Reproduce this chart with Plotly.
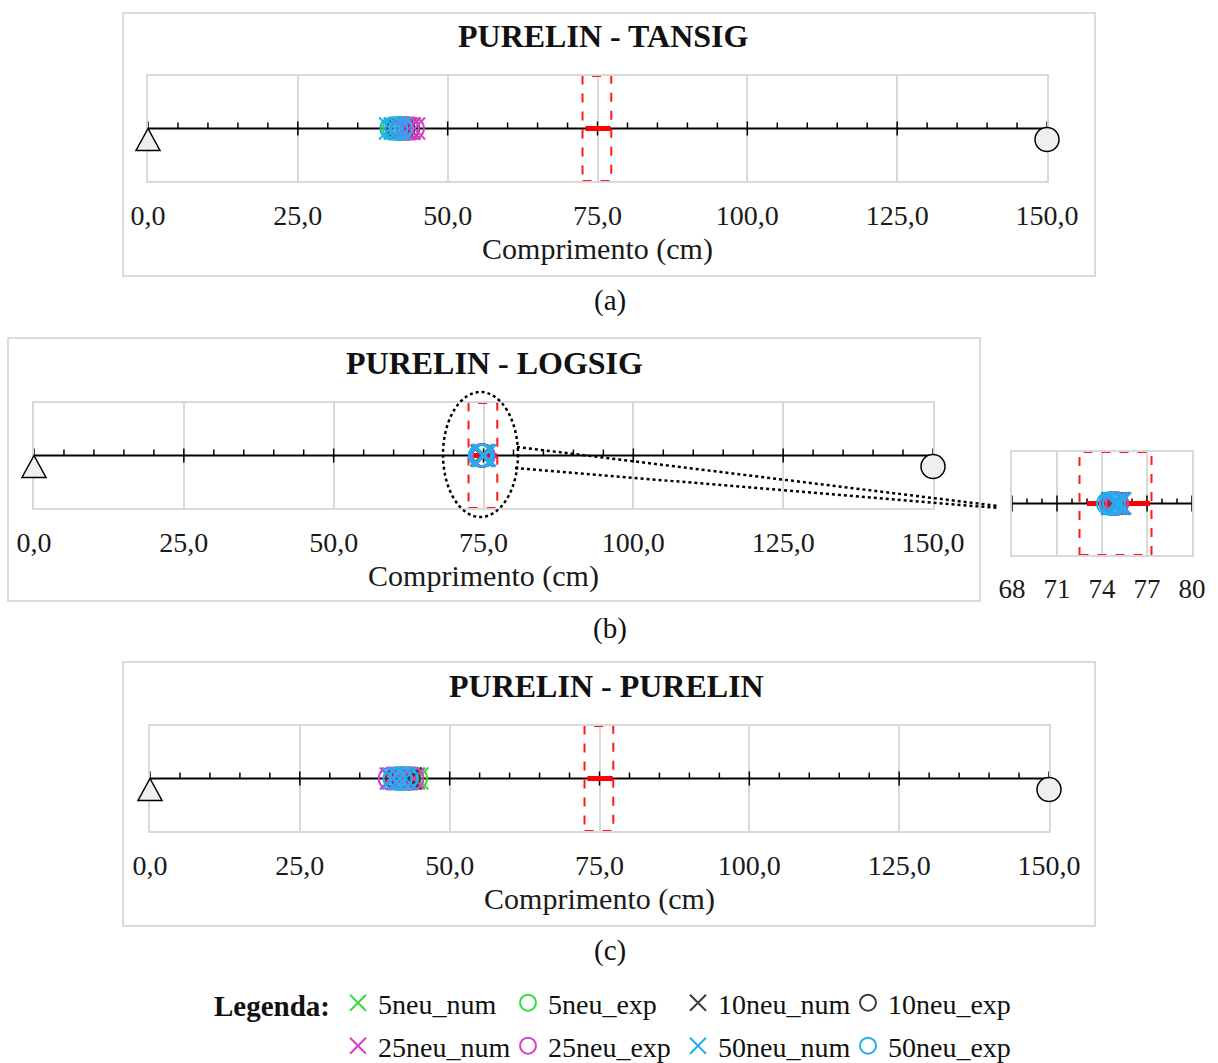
import numpy as np
import plotly.graph_objects as go

W, H = 1218, 1063
SERIF = "Times New Roman, Liberation Serif, serif"

# ---- data -------------------------------------------------------------
series_names = ["5neu_num", "5neu_exp", "10neu_num", "10neu_exp",
                "25neu_num", "25neu_exp", "50neu_num", "50neu_exp"]
series_colors = ["#35dc35", "#35dc35", "#3c3c3c", "#3c3c3c",
                 "#d63fc8", "#d63fc8", "#22aef0", "#22aef0"]
series_symbols = ["x-thin-open", "circle-open"] * 4

# predicted damage position (cm) for each network size, per output function
tansig_pos = [[41.2, 42.0, 42.8], [41.0, 41.8, 42.6],
              [42.0, 42.8, 43.6], [41.8, 42.6, 43.4],
              [42.6, 43.5, 44.4], [42.4, 43.3, 44.2],
              [40.4, 41.2, 42.0], [40.6, 41.4, 42.2]]
logsig_pos = [[74.7, 74.9, 75.1], [74.6, 74.8, 75.0],
              [74.7, 74.9, 75.1], [74.6, 74.8, 75.0],
              [74.8, 75.0, 75.2], [74.6, 74.8, 75.0],
              [74.8, 75.0, 75.2], [74.4, 74.6, 74.8]]
purelin_pos = [[42.5, 43.5, 44.6], [42.3, 43.3, 44.4],
               [41.5, 42.5, 43.5], [41.2, 42.2, 43.2],
               [40.2, 42.0, 44.0], [40.0, 41.8, 43.8],
               [40.6, 41.6, 42.6], [40.8, 41.8, 42.8]]

panel_titles = ["PURELIN - TANSIG", "PURELIN - LOGSIG", "PURELIN - PURELIN"]
panel_tags = ["(a)", "(b)", "(c)"]
main_ticks = [0, 25, 50, 75, 100, 125, 150]
main_tick_labels = ["0,0", "25,0", "50,0", "75,0", "100,0", "125,0", "150,0"]
zoom_ticks = [68, 71, 74, 77, 80]
zoom_tick_labels = ["68", "71", "74", "77", "80"]
beam_length = 150
damage_start, damage_end = 73.0, 77.2      # actual damaged region
window_start, window_end = 72.5, 77.3      # highlight window around it
axis_title = "Comprimento (cm)"

# ---- layout geometry (pixels) ----------------------------------------
def fx(p):
    return p / W


def fy(p):
    return 1 - p / H


panels = [
    dict(box=(123, 13, 1095, 276), plot=(148, 76, 1047, 181), title=(603, 36), tag_y=300),
    dict(box=(8, 338, 980, 601), plot=(34, 403, 933, 508), title=(494, 363), tag_y=628),
    dict(box=(123, 662, 1095, 926), plot=(150, 726, 1049, 831), title=(606, 686), tag_y=950),
]
inset_plot = (1012, 452, 1192, 555)

GRID = "#d9d9d9"
fig = go.Figure()
shapes = []
annotations = []
layout_axes = {}


def axis_pair(idx, plot, rng, tickvals, ticktext, tick_size, title=None):
    x0, y0, x1, y1 = plot
    xname = "xaxis" if idx == 1 else f"xaxis{idx}"
    yname = "yaxis" if idx == 1 else f"yaxis{idx}"
    ya = "y" if idx == 1 else f"y{idx}"
    xa = "x" if idx == 1 else f"x{idx}"
    layout_axes[xname] = dict(
        domain=[fx(x0), fx(x1)], range=rng, anchor=ya, automargin=False,
        tickvals=tickvals, ticktext=ticktext, ticks="",
        showgrid=True, gridcolor=GRID, gridwidth=1.5,
        showline=True, mirror=True, linecolor=GRID, linewidth=1.5,
        zeroline=False, fixedrange=True, ticklabelstandoff=9,
        tickfont=dict(family=SERIF, size=tick_size, color="#1a1a1a"),
    )
    if title:
        layout_axes[xname]["title"] = dict(
            text=title, standoff=8, font=dict(family=SERIF, size=30, color="#1a1a1a"))
    layout_axes[yname] = dict(
        domain=[fy(y1), fy(y0)], range=[-1, 1], anchor=xa, automargin=False,
        showticklabels=False, showgrid=False, zeroline=False,
        showline=True, mirror=True, linecolor=GRID, linewidth=1.5, fixedrange=True,
    )
    return xa, ya


def beam_shapes(xa, ya, start, stop, minor_step, major_step, major_half, minor_len):
    out = [dict(type="line", xref=xa, yref=ya, x0=start, x1=stop, y0=0, y1=0,
                line=dict(color="black", width=2), layer="between")]
    for v in np.arange(start, stop + 1e-9, minor_step):
        is_major = abs(((v - start) / major_step) - round((v - start) / major_step)) < 1e-6
        y0, y1 = (-major_half, major_half) if is_major else (0, minor_len)
        out.append(dict(type="line", xref=xa, yref=ya, x0=v, x1=v,
                        ysizemode="pixel", yanchor=0, y0=y0, y1=y1,
                        line=dict(color="black", width=1.5), layer="between"))
    return out


def damage_shapes(xa, ya):
    return [
        dict(type="rect", xref=xa, yref=ya, x0=window_start, x1=window_end,
             y0=-1, y1=1, line=dict(color="#ff1a1a", width=2, dash="dash"), layer="between"),
        dict(type="line", xref=xa, yref=ya, x0=damage_start, x1=damage_end, y0=0, y1=0,
             line=dict(color="#ff0000", width=5), layer="between"),
    ]


def support_shapes(xa, ya):
    # pinned support at the left end, roller at the right end (beam sits mid-height)
    xd, yd = f"{xa} domain", f"{ya} domain"
    return [
        dict(type="path", xref=xd, yref=yd, xsizemode="pixel", ysizemode="pixel",
             xanchor=0, yanchor=0.5, path="M0,0 L-12,-22 L12,-22 Z",
             fillcolor="#efefef", line=dict(color="black", width=1.5)),
        dict(type="circle", xref=xd, yref=yd, xsizemode="pixel", ysizemode="pixel",
             xanchor=1, yanchor=0.5, x0=-12, x1=12, y0=-23, y1=1,
             fillcolor="#efefef", line=dict(color="black", width=1.5)),
    ]


def add_series(xa, ya, positions, legend_on):
    for i, (name, col, sym, vals) in enumerate(zip(series_names, series_colors,
                                                   series_symbols, positions)):
        fig.add_trace(go.Scatter(
            x=vals, y=[0] * len(vals), xaxis=xa, yaxis=ya, mode="markers", name=name,
            marker=dict(symbol=sym, size=22, color=col, line=dict(width=2, color=col)),
            showlegend=legend_on, legend="legend" if i < 4 else "legend2",
            legendgroup=name, cliponaxis=False,
        ))


panel_data = [tansig_pos, logsig_pos, purelin_pos]
for k, (p, title, tag, data) in enumerate(zip(panels, panel_titles, panel_tags, panel_data)):
    idx = k + 1
    xa, ya = axis_pair(idx, p["plot"], [0, beam_length], main_ticks, main_tick_labels, 28, axis_title)
    bx0, by0, bx1, by1 = p["box"]
    shapes.append(dict(type="rect", xref="paper", yref="paper", x0=fx(bx0), x1=fx(bx1),
                       y0=fy(by1), y1=fy(by0), line=dict(color="#d0d0d0", width=1.5)))
    shapes.extend(beam_shapes(xa, ya, 0, beam_length, 5, 25, 7, 6))
    shapes.extend(damage_shapes(xa, ya))
    shapes.extend(support_shapes(xa, ya))
    add_series(xa, ya, data, legend_on=(k == 0))
    tx, ty = p["title"]
    annotations.append(dict(text=f"<b>{title}</b>", x=fx(tx), y=fy(ty), xref="paper", yref="paper",
                            showarrow=False, xanchor="center", yanchor="middle",
                            font=dict(family=SERIF, size=32, color="#111")))
    annotations.append(dict(text=tag, x=fx(610), y=fy(p["tag_y"]), xref="paper", yref="paper",
                            showarrow=False, xanchor="center", yanchor="middle",
                            font=dict(family=SERIF, size=29, color="#111")))

# zoomed view of the LOGSIG result
xa4, ya4 = axis_pair(4, inset_plot, [zoom_ticks[0], zoom_ticks[-1]], zoom_ticks, zoom_tick_labels, 27)
shapes.extend(beam_shapes(xa4, ya4, zoom_ticks[0], zoom_ticks[-1], 1, 3, 8, 5))
shapes.extend(damage_shapes(xa4, ya4))
add_series(xa4, ya4, logsig_pos, legend_on=False)

# magnifier ellipse and leader lines
dot = dict(color="black", width=2.5, dash="dot")
shapes.append(dict(type="circle", xref="paper", yref="paper", x0=fx(443), x1=fx(518),
                   y0=fy(517), y1=fy(392), line=dot))
shapes.append(dict(type="line", xref="paper", yref="paper", x0=fx(517), y0=fy(447),
                   x1=fx(998), y1=fy(506), line=dot))
shapes.append(dict(type="line", xref="paper", yref="paper", x0=fx(515), y0=fy(468),
                   x1=fx(998), y1=fy(508), line=dot))

legend_common = dict(orientation="h", xanchor="left", yanchor="top",
                     entrywidth=125, entrywidthmode="pixels", itemwidth=30,
                     bgcolor="rgba(0,0,0,0)", borderwidth=0,
                     font=dict(family=SERIF, size=28, color="#111"))

fig.update_layout(
    width=W, height=H, margin=dict(l=0, r=0, t=0, b=0, autoexpand=False),
    paper_bgcolor="white", plot_bgcolor="white",
    shapes=shapes, annotations=annotations,
    legend=dict(**legend_common, x=fx(212), y=fy(978),
                title=dict(text="<b>Legenda:</b>", side="left",
                           font=dict(family=SERIF, size=29, color="#111"))),
    legend2=dict(**legend_common, x=fx(338), y=fy(1021)),
    **layout_axes,
)

fig.write_html("out.html")
